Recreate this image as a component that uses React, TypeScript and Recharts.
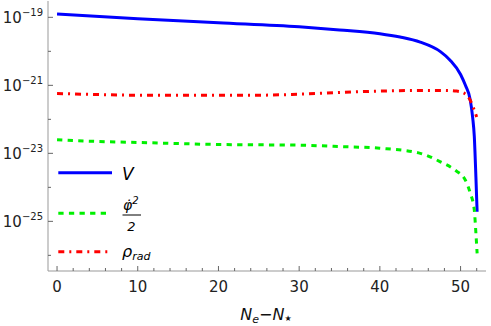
import { LineChart, Line, XAxis, YAxis, Legend } from 'recharts';

// sample points (x = N_e - N_*, value = log10 of energy density)
const vX = [0, 10, 20, 30, 35, 40, 42.5, 45, 47.5, 48.7, 50, 50.6, 51.2, 51.5, 51.7, 51.9, 52.05];
const vLog = [-18.9, -19.04, -19.16, -19.28, -19.37, -19.48, -19.58, -19.73, -20.01, -20.26, -20.68, -21.0, -21.43, -21.95, -22.5, -23.7, -24.72];

const kinX = [0, 5, 10, 20, 30, 35, 40, 45, 47.5, 49.3, 50.6, 51.2, 51.7, 51.9, 52.05];
const kinLog = [-22.6, -22.65, -22.68, -22.74, -22.76, -22.8, -22.85, -23.0, -23.25, -23.49, -23.79, -24.17, -24.67, -25.35, -25.94];

const radX = [0, 5, 10, 20, 25, 30, 35, 40, 45, 48, 49.5, 50.5, 51.2, 51.6, 52.0];
const radLog = [-21.24, -21.27, -21.29, -21.29, -21.29, -21.26, -21.21, -21.17, -21.15, -21.15, -21.17, -21.24, -21.44, -21.67, -21.93];

const xTicks = [0, 2, 4, 6, 8, 10, 12, 14, 16, 18, 20, 22, 24, 26, 28, 30, 32, 34, 36, 38, 40, 42, 44, 46, 48, 50, 52];
const yTickExps = [-26, -25, -24, -23, -22, -21, -20, -19];

const toRows = (xs: number[], logs: number[]) => xs.map((x, i) => ({ x, y: Math.pow(10, logs[i]) }));
const vData = toRows(vX, vLog);
const kinData = toRows(kinX, kinLog);
const radData = toRows(radX, radLog);

const yTicks = yTickExps.map((e) => Math.pow(10, e));
const xDomain = [-1.12, 53.15];
const yDomain = [Math.pow(10, -26.46), Math.pow(10, -18.52)];

const FONT = 'DejaVu Sans';
const TICK = '#666';

const expOf = (v: number) => Math.round(Math.log10(v));

const BottomTick = ({ x, y, payload }: any) => {
  const major = payload.value % 10 === 0;
  return (
    <g>
      <line x1={x} x2={x} y1={y} y2={y - (major ? 5 : 3)} stroke={TICK} />
      {major && (
        <text x={x} y={y + 21} textAnchor="middle" fontSize={15} fontFamily={FONT} fill="#222">
          {payload.value}
        </text>
      )}
    </g>
  );
};

const TopTick = ({ x, y, payload }: any) => {
  const major = payload.value % 10 === 0;
  return <line x1={x} x2={x} y1={y} y2={y + (major ? 5 : 3)} stroke={TICK} />;
};

const LeftTick = ({ x, y, payload }: any) => {
  const e = expOf(payload.value);
  const major = e % 2 !== 0;
  return (
    <g>
      <line x1={x} x2={x + (major ? 5 : 3)} y1={y} y2={y} stroke={TICK} />
      {major && (
        <text x={x - 5} y={y + 6} textAnchor="end" fontSize={15} fontFamily={FONT} fill="#222">
          10
          <tspan fontSize={10} dy={-7}>{'\u2212' + Math.abs(e)}</tspan>
        </text>
      )}
    </g>
  );
};

const RightTick = ({ x, y, payload }: any) => {
  const major = expOf(payload.value) % 2 !== 0;
  return <line x1={x} x2={x - (major ? 5 : 3)} y1={y} y2={y} stroke={TICK} />;
};

const legendLabel = (key: string) => {
  if (key === 'V') {
    return (
      <text x={72} y={20} fontSize={17} fontStyle="italic" fontFamily={FONT}>
        V
      </text>
    );
  }
  if (key === 'kin') {
    return (
      <g fontFamily={FONT} fontStyle="italic">
        <text x={73} y={50} fontSize={14}>
          {'\u03c6\u0307'}
          <tspan fontSize={10} dy={-6}>2</tspan>
        </text>
        <line x1={72.5} x2={91} y1={55} y2={55} stroke="#000" strokeWidth={1} />
        <text x={81.5} y={71} fontSize={13} textAnchor="middle">
          2
        </text>
      </g>
    );
  }
  return (
    <text x={72} y={97} fontSize={16} fontStyle="italic" fontFamily={FONT}>
      {'\u03c1'}
      <tspan fontSize={11} dy={3}>rad</tspan>
    </text>
  );
};

const legendRowY: Record<string, number> = { V: 12.7, kin: 53.3, rad: 91.7 };

const renderLegend = ({ payload }: any) => (
  <svg width={120} height={105}>
    {(payload || []).map((entry: any) => {
      const key = entry.value as string;
      const ly = legendRowY[key];
      return (
        <g key={key}>
          <line
            x1={8.3}
            x2={key === 'V' ? 62 : 59}
            y1={ly}
            y2={ly}
            stroke={entry.color}
            strokeWidth={3}
            strokeDasharray={entry.payload?.strokeDasharray}
          />
          {legendLabel(key)}
        </g>
      );
    })}
  </svg>
);

const App = () => {
  return (
    <div style={{ position: 'absolute', left: 0, top: 0, background: '#fff' }}>
      <LineChart width={491} height={326} margin={{ top: 1, right: 5, left: 0, bottom: 0 }}>
        <XAxis
          dataKey="x"
          type="number"
          domain={xDomain}
          ticks={xTicks}
          interval={0}
          allowDataOverflow
          height={55}
          stroke="#999"
          tickLine={false}
          tickSize={0}
          tickMargin={0}
          tick={BottomTick}
          label={() => (
            <text x={266} y={320} textAnchor="middle" fontSize={16} fontFamily={FONT} fontStyle="italic" fill="#111">
              N<tspan fontSize={11} dy={3}>e</tspan>
              <tspan fontSize={16} dy={-3} fontStyle="normal">{'\u2212'}</tspan>N
              <tspan fontSize={8} dy={1} fontStyle="normal">{'\u2605'}</tspan>
            </text>
          )}
        />
        <XAxis
          xAxisId="top"
          orientation="top"
          dataKey="x"
          type="number"
          domain={xDomain}
          ticks={xTicks}
          interval={0}
          allowDataOverflow
          height={0}
          stroke="#999"
          tickLine={false}
          tickSize={0}
          tickMargin={0}
          tick={TopTick}
        />
        <YAxis
          type="number"
          scale="log"
          domain={yDomain}
          ticks={yTicks}
          interval={0}
          allowDataOverflow
          width={48}
          stroke="#999"
          tickLine={false}
          tickSize={0}
          tickMargin={0}
          tick={LeftTick}
        />
        <YAxis
          yAxisId="right"
          orientation="right"
          type="number"
          scale="log"
          domain={yDomain}
          ticks={yTicks}
          interval={0}
          allowDataOverflow
          width={0}
          stroke="#999"
          tickLine={false}
          tickSize={0}
          tickMargin={0}
          tick={RightTick}
        />
        <Legend
          layout="vertical"
          align="center"
          verticalAlign="middle"
          content={renderLegend}
          wrapperStyle={{ left: 50, top: 160, width: 120, height: 105 }}
        />
        <Line
          data={vData}
          dataKey="y"
          name="V"
          type="monotone"
          stroke="#0000ff"
          strokeWidth={3}
          dot={false}
          isAnimationActive={false}
        />
        <Line
          data={kinData}
          dataKey="y"
          name="kin"
          type="monotone"
          stroke="#00f000"
          strokeWidth={3}
          strokeDasharray="5.3 5.3"
          dot={false}
          isAnimationActive={false}
        />
        <Line
          data={radData}
          dataKey="y"
          name="rad"
          type="monotone"
          stroke="#ff0000"
          strokeWidth={3}
          strokeDasharray="6 5 2 5"
          dot={false}
          isAnimationActive={false}
        />
      </LineChart>
    </div>
  );
};

export default App;
